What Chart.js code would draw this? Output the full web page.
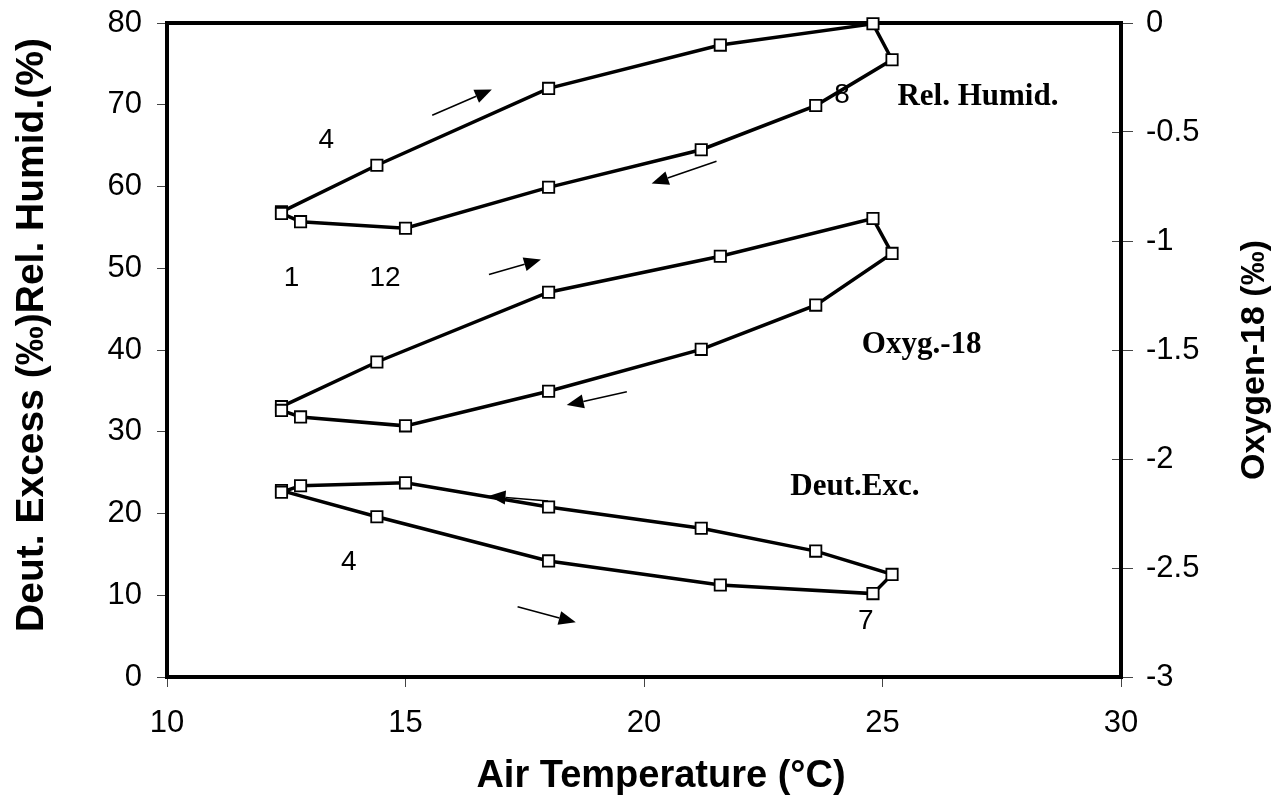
<!DOCTYPE html>
<html>
<head>
<meta charset="utf-8">
<script src="https://cdn.jsdelivr.net/npm/chart.js@4.4.1/dist/chart.umd.min.js"></script>
<style>
  html, body { margin: 0; padding: 0; background: #fff; }
  #wrap { width: 1281px; height: 799px; }
</style>
</head>
<body>
<div id="wrap"><canvas id="c" width="1281" height="799"></canvas></div>
<script>
// Monthly means, traced once round the annual cycle
const airTemp    = [12.4, 14.4, 18.0, 21.6, 24.8, 25.2, 23.6, 21.2, 18.0, 15.0, 12.8, 12.4];
const relHumid   = [56.9, 62.6, 72.0, 77.3, 79.9, 75.5, 69.9, 64.5, 59.9, 54.9, 55.7, 56.7];
const oxygen18   = [-1.76, -1.555, -1.235, -1.07, -0.897, -1.057, -1.294, -1.497, -1.689, -1.848, -1.807, -1.777];
const deutExcess = [22.8, 19.6, 14.2, 11.25, 10.2, 12.55, 15.4, 18.2, 20.8, 23.75, 23.4, 22.6];

// Axis ticks
const tempTicks = [10, 15, 20, 25, 30];
const leftTicks = [0, 10, 20, 30, 40, 50, 60, 70, 80];
const o18Ticks  = [0, -0.5, -1, -1.5, -2, -2.5, -3];

// Axis titles
const xTitle  = 'Air Temperature (°C)';
const yTitle  = 'Deut. Excess (‰)Rel. Humid.(%)';
const y2Title = 'Oxygen-18 (‰)';

// Curve names written beside each loop (temperature, left-axis value)
const curveNames   = ['Rel. Humid.', 'Oxyg.-18', 'Deut.Exc.'];
const curveNamePos = [[27.0, 71.0], [25.82, 40.6], [24.42, 23.2]];

// Month numbers beside the loops
const monthText = ['4', '1', '12', '8', '4', '7'];
const monthPos  = [[13.34, 65.7], [12.61, 48.75], [14.57, 48.75], [24.15, 71.2], [13.81, 14.0], [24.65, 6.76]];

// Direction-of-travel arrows: [fromT, fromY] -> [toT, toY]
const arrowFrom = [[15.56, 68.71], [21.52, 63.09], [16.75, 49.24], [19.64, 34.88], [17.99, 21.52], [17.35, 8.60]];
const arrowTo   = [[16.81, 71.86], [20.16, 60.36], [17.84, 51.07], [18.38, 33.26], [16.74, 22.13], [18.57, 6.69]];

const SANS = "'Liberation Sans', Arial, sans-serif";
const SERIF = "'Liberation Serif', 'Times New Roman', serif";

const pts = ys => airTemp.map((t, i) => ({ x: t, y: ys[i] }));

const lineStyle = {
  showLine: true,
  borderColor: '#000',
  borderWidth: 3.5,
  tension: 0,
  pointStyle: 'rect',
  pointRadius: 8,
  pointHoverRadius: 8,
  pointBorderWidth: 1.8,
  pointBorderColor: '#000',
  pointBackgroundColor: '#fff',
  clip: false
};

// Heavy frame round the plotting area, drawn under the curves,
// with the right-hand ticks carried across it
const framePlugin = {
  id: 'frame',
  beforeDatasetsDraw(chart) {
    const a = chart.chartArea, ctx = chart.ctx, r = chart.scales.y2;
    ctx.save();
    ctx.strokeStyle = '#444';
    ctx.lineWidth = 1;
    o18Ticks.forEach(v => {
      const y = Math.round(r.getPixelForValue(v)) + 0.5;
      ctx.beginPath();
      ctx.moveTo(a.right - 9, y);
      ctx.lineTo(a.right, y);
      ctx.stroke();
    });
    ctx.strokeStyle = '#000';
    ctx.lineWidth = 4;
    ctx.strokeRect(a.left, a.top, a.right - a.left, a.bottom - a.top);
    ctx.restore();
  }
};

function drawArrow(ctx, x1, y1, x2, y2) {
  const ang = Math.atan2(y2 - y1, x2 - x1);
  const hl = 17, hw = 7;
  const bx = x2 - hl * Math.cos(ang), by = y2 - hl * Math.sin(ang);
  ctx.beginPath();
  ctx.moveTo(x1, y1);
  ctx.lineTo(bx, by);
  ctx.lineWidth = 1.5;
  ctx.stroke();
  ctx.beginPath();
  ctx.moveTo(x2, y2);
  ctx.lineTo(bx + hw * Math.sin(ang), by - hw * Math.cos(ang));
  ctx.lineTo(bx - hw * Math.sin(ang), by + hw * Math.cos(ang));
  ctx.closePath();
  ctx.fill();
}

// Arrows, month numbers, curve names and axis titles
const notesPlugin = {
  id: 'notes',
  afterDatasetsDraw(chart) {
    const ctx = chart.ctx, sx = chart.scales.x, sy = chart.scales.y;
    ctx.save();
    ctx.strokeStyle = '#000';
    ctx.fillStyle = '#000';
    arrowFrom.forEach((f, i) => {
      const t = arrowTo[i];
      drawArrow(ctx, sx.getPixelForValue(f[0]), sy.getPixelForValue(f[1]),
                     sx.getPixelForValue(t[0]), sy.getPixelForValue(t[1]));
    });
    ctx.textAlign = 'center';
    ctx.textBaseline = 'middle';
    ctx.font = '28px ' + SANS;
    monthText.forEach((s, i) => {
      ctx.fillText(s, sx.getPixelForValue(monthPos[i][0]), sy.getPixelForValue(monthPos[i][1]));
    });
    ctx.font = 'bold 31px ' + SERIF;
    curveNames.forEach((s, i) => {
      ctx.fillText(s, sx.getPixelForValue(curveNamePos[i][0]), sy.getPixelForValue(curveNamePos[i][1]));
    });
    ctx.restore();

    // axis titles
    ctx.save();
    ctx.fillStyle = '#000';
    ctx.textAlign = 'center';
    ctx.textBaseline = 'middle';
    ctx.font = 'bold 38px ' + SANS;
    ctx.fillText(xTitle, 661, 777);
    ctx.translate(32, 335);
    ctx.rotate(-Math.PI / 2);
    ctx.font = 'bold 39px ' + SANS;
    ctx.fillText(yTitle, 0, 0);
    ctx.restore();

    ctx.save();
    ctx.fillStyle = '#000';
    ctx.textAlign = 'center';
    ctx.textBaseline = 'middle';
    ctx.translate(1255, 360);
    ctx.rotate(-Math.PI / 2);
    ctx.font = 'bold 34px ' + SANS;
    ctx.fillText(y2Title, 0, 0);
    ctx.restore();
  }
};

new Chart(document.getElementById('c'), {
  type: 'scatter',
  data: {
    datasets: [
      Object.assign({ label: 'Rel. Humid.', data: pts(relHumid), yAxisID: 'y' }, lineStyle),
      Object.assign({ label: 'Oxyg.-18', data: pts(oxygen18), yAxisID: 'y2' }, lineStyle),
      Object.assign({ label: 'Deut.Exc.', data: pts(deutExcess), yAxisID: 'y' }, lineStyle)
    ]
  },
  options: {
    responsive: false,
    animation: false,
    events: [],
    layout: { padding: { top: 23, right: 0, bottom: 0, left: 0 } },
    plugins: { legend: { display: false }, tooltip: { enabled: false } },
    scales: {
      x: {
        type: 'linear',
        min: 10, max: 30,
        afterBuildTicks: s => { s.ticks = tempTicks.map(v => ({ value: v })); },
        afterFit: s => { s.height = 122; s.paddingLeft = 0; s.paddingRight = 0; },
        grid: { drawOnChartArea: false, drawTicks: true, tickLength: 10, color: '#444', lineWidth: 1 },
        border: { display: false },
        ticks: { color: '#000', font: { family: SANS, size: 31 }, padding: 18, maxRotation: 0,
                 callback: v => String(v) }
      },
      y: {
        type: 'linear',
        position: 'left',
        min: 0, max: 80,
        afterBuildTicks: s => { s.ticks = leftTicks.map(v => ({ value: v })); },
        afterFit: s => { s.width = 167; s.paddingTop = 0; s.paddingBottom = 0; },
        grid: { drawOnChartArea: false, drawTicks: true, tickLength: 10, color: '#444', lineWidth: 1 },
        border: { display: false },
        ticks: { color: '#000', font: { family: SANS, size: 31 }, padding: 15,
                 callback: v => String(v) }
      },
      y2: {
        type: 'linear',
        position: 'right',
        min: -3, max: 0,
        afterBuildTicks: s => { s.ticks = o18Ticks.map(v => ({ value: v })); },
        afterFit: s => { s.width = 160; s.paddingTop = 0; s.paddingBottom = 0; },
        grid: { drawOnChartArea: false, drawTicks: true, tickLength: 12, color: '#444', lineWidth: 1 },
        border: { display: false },
        ticks: { color: '#000', font: { family: SANS, size: 31 }, padding: 13,
                 callback: v => String(v) }
      }
    }
  },
  plugins: [framePlugin, notesPlugin]
});
</script>
</body>
</html>
